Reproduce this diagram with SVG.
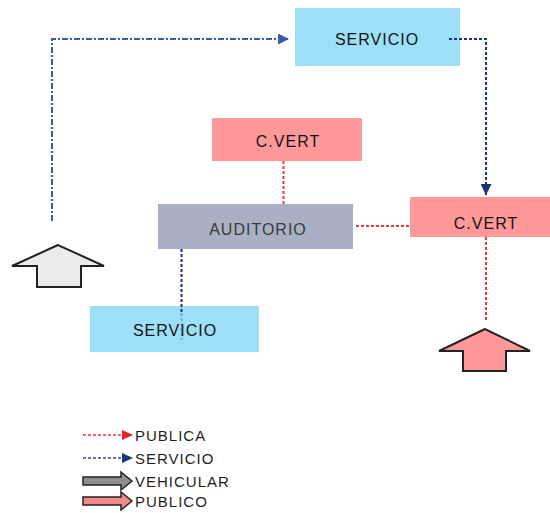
<svg xmlns="http://www.w3.org/2000/svg" width="550" height="513" viewBox="0 0 550 513">
<defs>
<style>
.lbl{font-family:"Liberation Sans",Arial,sans-serif;font-size:16px;letter-spacing:1px;fill:#141414;text-anchor:middle}
.leg{font-family:"Liberation Sans",Arial,sans-serif;font-size:15px;letter-spacing:1px;fill:#1e1e1e}
.svc{fill:#9ddff7}
.cv{fill:#ff9999}
.aud{fill:#a9b0c3}
.red{fill:none;stroke:#e83a3a;stroke-width:2;stroke-dasharray:3 2}
.navy{fill:none;stroke:#1b3378;stroke-width:2;stroke-dasharray:3 2}
.dd{fill:none;stroke:#3a5ea6;stroke-width:2;stroke-dasharray:6 2 2 2}
.blk{stroke:#222;stroke-width:2;stroke-linejoin:miter}
</style>
<marker id="ab" viewBox="0 0 10 10" refX="10" refY="5" markerWidth="6.5" markerHeight="5.5" markerUnits="strokeWidth" orient="auto"><path d="M0,0 L10,5 L0,10 Z" fill="#3a5ea6"/></marker>
<marker id="an" viewBox="0 0 10 10" refX="10" refY="5" markerWidth="6.5" markerHeight="5.5" markerUnits="strokeWidth" orient="auto"><path d="M0,0 L10,5 L0,10 Z" fill="#1b3378"/></marker>
</defs>
<rect width="550" height="513" fill="#fff"/>
<g id="servicio-top"><rect class="svc" x="295" y="8" width="165" height="58"/><text class="lbl" x="377" y="45">SERVICIO</text></g>
<g id="cvert-top"><rect class="cv" x="212" y="118" width="150" height="43"/><text class="lbl" x="288" y="147">C.VERT</text></g>
<g id="auditorio"><rect class="aud" x="158" y="204" width="195" height="45"/><text class="lbl" x="258" y="235" style="fill:#3a3a3a">AUDITORIO</text></g>
<g id="cvert-right"><rect class="cv" x="410" y="197" width="140" height="40"/><text class="lbl" x="486" y="229">C.VERT</text></g>
<g id="servicio-bottom"><rect class="svc" x="90" y="306" width="169" height="46"/><text class="lbl" x="175" y="336">SERVICIO</text></g>
<g id="arrow-vehicular"><path class="blk" fill="#ebebeb" d="M58,245 L12,266 H37 V287 H81 V266 H104 Z"/></g>
<g id="arrow-publico"><path class="blk" fill="#ff9999" d="M485,329 L439,351 H463 V371 H506 V351 H530 Z"/></g>
<g id="connectors">
<path class="dd" d="M52,221 V39 H289" marker-end="url(#ab)"/>
<path class="navy" d="M449,39 H486 V195" marker-end="url(#an)"/>
<path class="red" d="M283.5,161 V204"/>
<path class="red" d="M356,226 H410"/>
<path class="navy" d="M181.5,249 V313"/>
<path class="navy" d="M181.5,313 V340" opacity="0.3"/>
<path class="red" d="M486,237 V322"/>
</g>
<g id="legend">
<path d="M83,435 H122" fill="none" stroke="#e83a3a" stroke-width="1.5" stroke-dasharray="3 2"/>
<path d="M122,430 L133,435 L122,440 Z" fill="#e82020"/>
<text class="leg" x="135" y="441">PUBLICA</text>
<path d="M83,458 H122" fill="none" stroke="#2a4a9a" stroke-width="1.5" stroke-dasharray="3 2"/>
<path d="M122,453 L133,458 L122,463 Z" fill="#1b3378"/>
<text class="leg" x="135" y="464">SERVICIO</text>
<path d="M83,477 H121 V472 L132,481 L121,490 V485 H83 Z" fill="#8f8f8f" stroke="#222" stroke-width="1.5"/>
<text class="leg" x="135" y="487">VEHICULAR</text>
<path d="M83,497 H121 V492 L132,501 L121,510 V505 H83 Z" fill="#f08a8a" stroke="#222" stroke-width="1.5"/>
<text class="leg" x="135" y="507">PUBLICO</text>
</g>
</svg>
